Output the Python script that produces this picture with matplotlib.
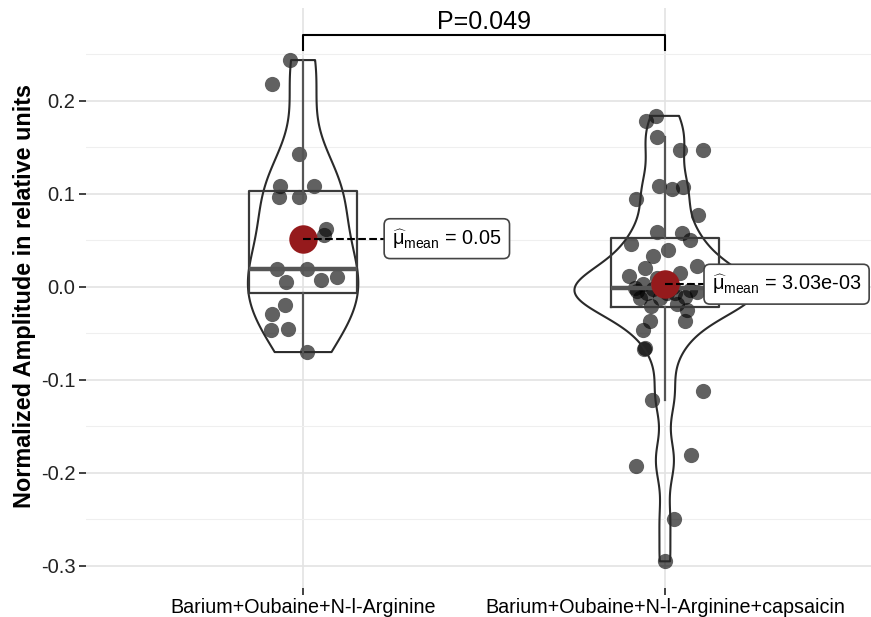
import numpy as np
import matplotlib
matplotlib.use("Agg")
import matplotlib.pyplot as plt

plt.rcParams['font.family'] = ['Liberation Sans', 'DejaVu Sans']
plt.rcParams['mathtext.fontset'] = 'custom'
plt.rcParams['mathtext.rm'] = 'Liberation Sans'
plt.rcParams['mathtext.it'] = 'Liberation Sans:italic'

groups = ['Barium+Oubaine+N-l-Arginine', 'Barium+Oubaine+N-l-Arginine+capsaicin']

# values
g1 = [0.244, 0.218, 0.143, 0.109, 0.109, 0.097, 0.097, 0.062, 0.056, 0.019,
      0.019, 0.005, 0.007, 0.011, -0.019, -0.029, -0.046, -0.045, -0.070]
g2 = [0.178, 0.184, 0.161, 0.147, 0.147, 0.109, 0.105, 0.108, 0.095, 0.077,
      0.059, 0.058, 0.051, 0.046, 0.040, 0.033, 0.023, 0.020,
      -0.020, -0.018, -0.012, -0.012, -0.011, -0.007, -0.007, -0.006, -0.005,
      -0.004, -0.003, -0.002, -0.001, 0.000, 0.003, 0.010, 0.012, 0.015,
      -0.037, -0.025, -0.037, -0.046, -0.066, -0.067, -0.122, -0.112,
      -0.192, -0.181, -0.249, -0.295]
# horizontal jitter (category units)
jit1 = [-0.036, -0.086, -0.011, -0.064, 0.030, -0.066, -0.011, 0.064, 0.058, -0.072,
        0.011, -0.047, 0.050, 0.094, -0.050, -0.086, -0.088, -0.041, 0.011]
jit2 = [-0.052, -0.025, -0.022, 0.041, 0.105, -0.017, 0.019, 0.050, -0.080, 0.091,
        -0.022, 0.047, 0.069, -0.094, 0.008, -0.033, 0.088, -0.055,
        -0.039, 0.033, -0.069, -0.014, 0.055, -0.050, 0.006, 0.028, 0.088,
        -0.077, 0.069, -0.033, -0.083, 0.022, -0.061, -0.022, -0.100, 0.041,
        -0.041, 0.060, 0.055, -0.060, -0.055, -0.058, -0.037, 0.105,
        -0.080, 0.071, 0.025, 0.000]
mean_labels = ['= 0.05', '= 3.03e-03']
p_text = 'P=0.049'

data = [np.array(g1), np.array(g2)]
pos = [1, 2]

fig = plt.figure(figsize=(8.71, 6.17), dpi=100)
ax = fig.add_axes([86/871, 1-588/617, 796/871, 580/617])

# points
for p, d, j in zip(pos, data, [jit1, jit2]):
    ax.scatter(p + np.array(j), d, s=120, color='black', alpha=0.62, lw=0, zorder=2)

# violins (area scaled, trimmed)
def kde(v, grid):
    n = len(v)
    iqr = np.percentile(v, 75) - np.percentile(v, 25)
    bw = 0.9 * min(v.std(ddof=1), iqr / 1.34) * n ** -0.2
    z = (grid[:, None] - v[None, :]) / bw
    return np.exp(-0.5 * z ** 2).sum(1) / (n * bw * np.sqrt(2 * np.pi))

grids = [np.linspace(d.min(), d.max(), 400) for d in data]
dens = [kde(d, g) for d, g in zip(data, grids)]
dmax = max(x.max() for x in dens)
for p, g, dd in zip(pos, grids, dens):
    w = 0.25 * dd / dmax
    ax.fill_betweenx(g, p - w, p + w, facecolor='none', edgecolor='#2a2a2a', lw=1.5, zorder=3)

# boxes
ax.boxplot(data, positions=pos, widths=0.3, showfliers=False, showcaps=False,
           boxprops=dict(color='#3a3a3a', lw=1.6),
           whiskerprops=dict(color='#555555', lw=1.6),
           medianprops=dict(color='#555555', lw=3.2), zorder=3)

# means
line_off = [0.224, 0.108]
text_off = [0.246, 0.130]
for p, d, lab, o, t in zip(pos, data, mean_labels, line_off, text_off):
    m = d.mean()
    ax.scatter([p], [m], s=420, color='#951a1c', lw=0, zorder=4)
    ax.plot([p, p + o], [m, m], ls='--', color='black', lw=1.5, zorder=4)
    ax.text(p + t, m, r'$\widehat{\mathrm{\mu}}_{\mathrm{mean}}$ ' + lab, fontsize=14.3,
            ha='left', va='center', zorder=5,
            bbox=dict(boxstyle='round,pad=0.4,rounding_size=0.3', facecolor='white',
                      edgecolor='#444444', lw=1.2))

# significance bracket
ax.plot([1, 1, 2, 2], [0.255, 0.271, 0.271, 0.255], color='black', lw=1.5, zorder=5)
ax.text(1.5, 0.2725, p_text, fontsize=18, ha='center', va='bottom')

ax.set_xlim(0.4, 2.6)
ax.set_ylim(-0.3237, 0.300)
ax.set_xticks(pos)
ax.set_xticklabels(groups, fontsize=14.2)
ax.set_yticks([-0.3, -0.2, -0.1, 0.0, 0.1, 0.2])
ax.set_yticklabels(['-0.3', '-0.2', '-0.1', '0.0', '0.1', '0.2'], fontsize=14.5, color='#222222')
ax.set_yticks(np.arange(-0.25, 0.3, 0.1), minor=True)
ax.tick_params(axis='both', length=5, width=1.3, color='#333333', pad=2.5)
ax.tick_params(axis='y', which='minor', length=0)
ax.grid(True, which='major', color='#e3e3e3', lw=1.2)
ax.grid(True, which='minor', axis='y', color='#efefef', lw=0.8)
ax.set_axisbelow(True)
for s in ax.spines.values():
    s.set_visible(False)
ax.set_ylabel('Normalized Amplitude in relative units', fontsize=16.8, fontweight='bold')
ax.yaxis.set_label_coords((36 - 86) / 796, 0.504)

fig.savefig('out.png', dpi=100)
